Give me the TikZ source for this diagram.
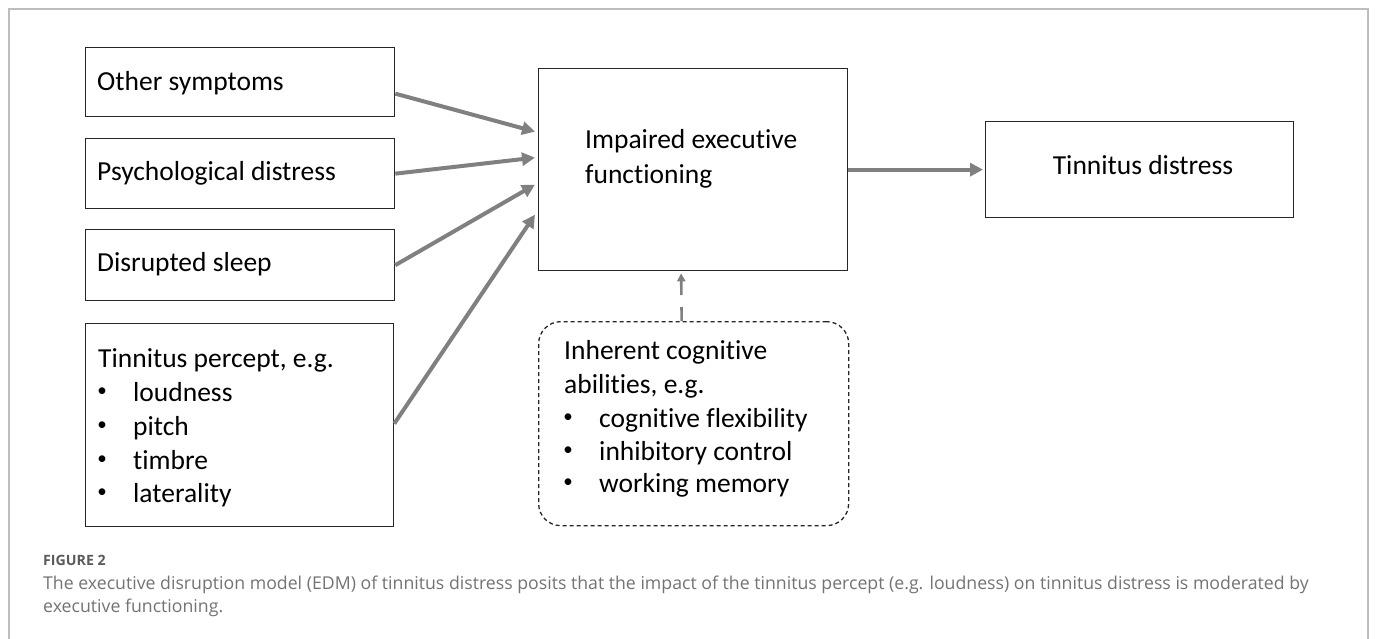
\documentclass[tikz,border=0pt]{standalone}
\usepackage{fontspec}
\setmainfont{Carlito}[Ligatures={NoCommon}]
\newfontfamily\capfont{Open Sans}
\usetikzlibrary{arrows.meta}
\definecolor{arrowgray}{HTML}{808080}
\definecolor{framegray}{HTML}{BDBDBD}
\definecolor{capgray}{HTML}{737373}
\definecolor{capdark}{HTML}{5A5A5A}
\definecolor{boxline}{HTML}{262626}
\begin{document}
\begin{tikzpicture}[x=1pt,y=-1pt,
  box/.style={draw=boxline, line width=1.3pt, rectangle, inner sep=0pt, anchor=north west},
  dbox/.style={box, dash pattern=on 4pt off 3pt, rounded corners=22pt},
  txt/.style={font=\fontsize{27.5}{33}\selectfont, inner sep=0pt, text height=18pt, text depth=0pt, anchor=west},
  ctr/.style={txt, anchor=center},
  bul/.style={font=\fontsize{19}{22}\selectfont, inner sep=0pt, anchor=center},
  flow/.style={draw=arrowgray, line width=4pt, -{Triangle[length=13pt,width=13pt]}},
  modline/.style={draw=arrowgray, line width=2.6pt, dash pattern=on 14pt off 12pt, -{Triangle[length=8pt,width=8pt]}},
  capt/.style={font=\capfont\fontsize{17.7}{21}\selectfont, text=capgray, inner sep=0pt, text height=12pt, text depth=0pt, anchor=west},
  caphead/.style={font=\capfont\bfseries\fontsize{14.2}{17}\selectfont, text=capdark, inner sep=0pt, text height=11pt, text depth=0pt, anchor=west}
]
\useasboundingbox (0,0) rectangle (1375,639);
% outer frame
\draw[framegray, line width=1.2pt] (9,640) -- (9,9) -- (1368,9) -- (1368,640);

% boxes
\node[box, minimum width=309pt, minimum height=69pt] (other) at (85,47) {};
\node[box, minimum width=309pt, minimum height=70pt] (psych) at (85,138) {};
\node[box, minimum width=309pt, minimum height=71pt] (sleep) at (85,229) {};
\node[box, minimum width=308pt, minimum height=203pt] (percept) at (85,323) {};
\node[box, minimum width=309pt, minimum height=202pt] (impaired) at (538,68) {};
\node[box, minimum width=308pt, minimum height=96pt] (distress) at (985,121) {};
\node[dbox, minimum width=310pt, minimum height=204pt] (inherent) at (538,321) {};

% texts
\node[txt] (othert) at (97,82) {Other symptoms};
\node[txt] (psycht) at (97,172) {Psychological distress};
\node[txt] (sleept) at (97,262) {Disrupted sleep};

\node[txt] (perc0) at (98,358) {Tinnitus percept, e.g.};
\node[bul] (percb1) at (102,392) {•};
\node[txt] (perc1) at (133,392) {loudness};
\node[bul] (percb2) at (102,426) {•};
\node[txt] (perc2) at (133,426) {pitch};
\node[bul] (percb3) at (102,460) {•};
\node[txt] (perc3) at (133,460) {timbre};
\node[bul] (percb4) at (102,493) {•};
\node[txt] (perc4) at (133,493) {laterality};

\node[txt] (imp1) at (585,140) {Impaired executive};
\node[txt] (imp2) at (585,175) {functioning};

\node[ctr] (distt) at (1143,166) {Tinnitus distress};

\node[txt] (inh0) at (564,350) {Inherent cognitive};
\node[txt] (inh1) at (564,384) {abilities, e.g.};
\node[bul] (inhb2) at (568,418) {•};
\node[txt] (inh2) at (599,418) {cognitive flexibility};
\node[bul] (inhb3) at (568,451) {•};
\node[txt] (inh3) at (599,451) {inhibitory control};
\node[bul] (inhb4) at (568,483) {•};
\node[txt] (inh4) at (599,483) {working memory};

% connectors
\draw[flow] ([yshift=-11.5pt]other.east) -- ([xshift=-3pt,yshift=38pt]impaired.west);
\draw[flow] (psych.east) -- ([xshift=-3pt,yshift=12pt]impaired.west);
\draw[flow] (sleep.east) -- ([xshift=-3pt,yshift=-15pt]impaired.west);
\draw[flow] ([yshift=1.5pt]percept.east) -- ([xshift=-3pt,yshift=-45pt]impaired.west);
\draw[flow] (impaired.east) -- ([xshift=-2pt]distress.west);
\draw[modline] ([xshift=-12pt]inherent.north) -- ([xshift=-12pt,yshift=-2pt]impaired.south);

% caption
\node[caphead] (fig) at (43,560) {FIGURE 2};
\node[capt] (cap1) at (43,583) {The executive disruption model (EDM) of tinnitus distress posits that the impact of the tinnitus percept (e.g. loudness) on tinnitus distress is moderated by};
\node[capt] (cap2) at (43,606) {executive functioning.};
\end{tikzpicture}
\end{document}
